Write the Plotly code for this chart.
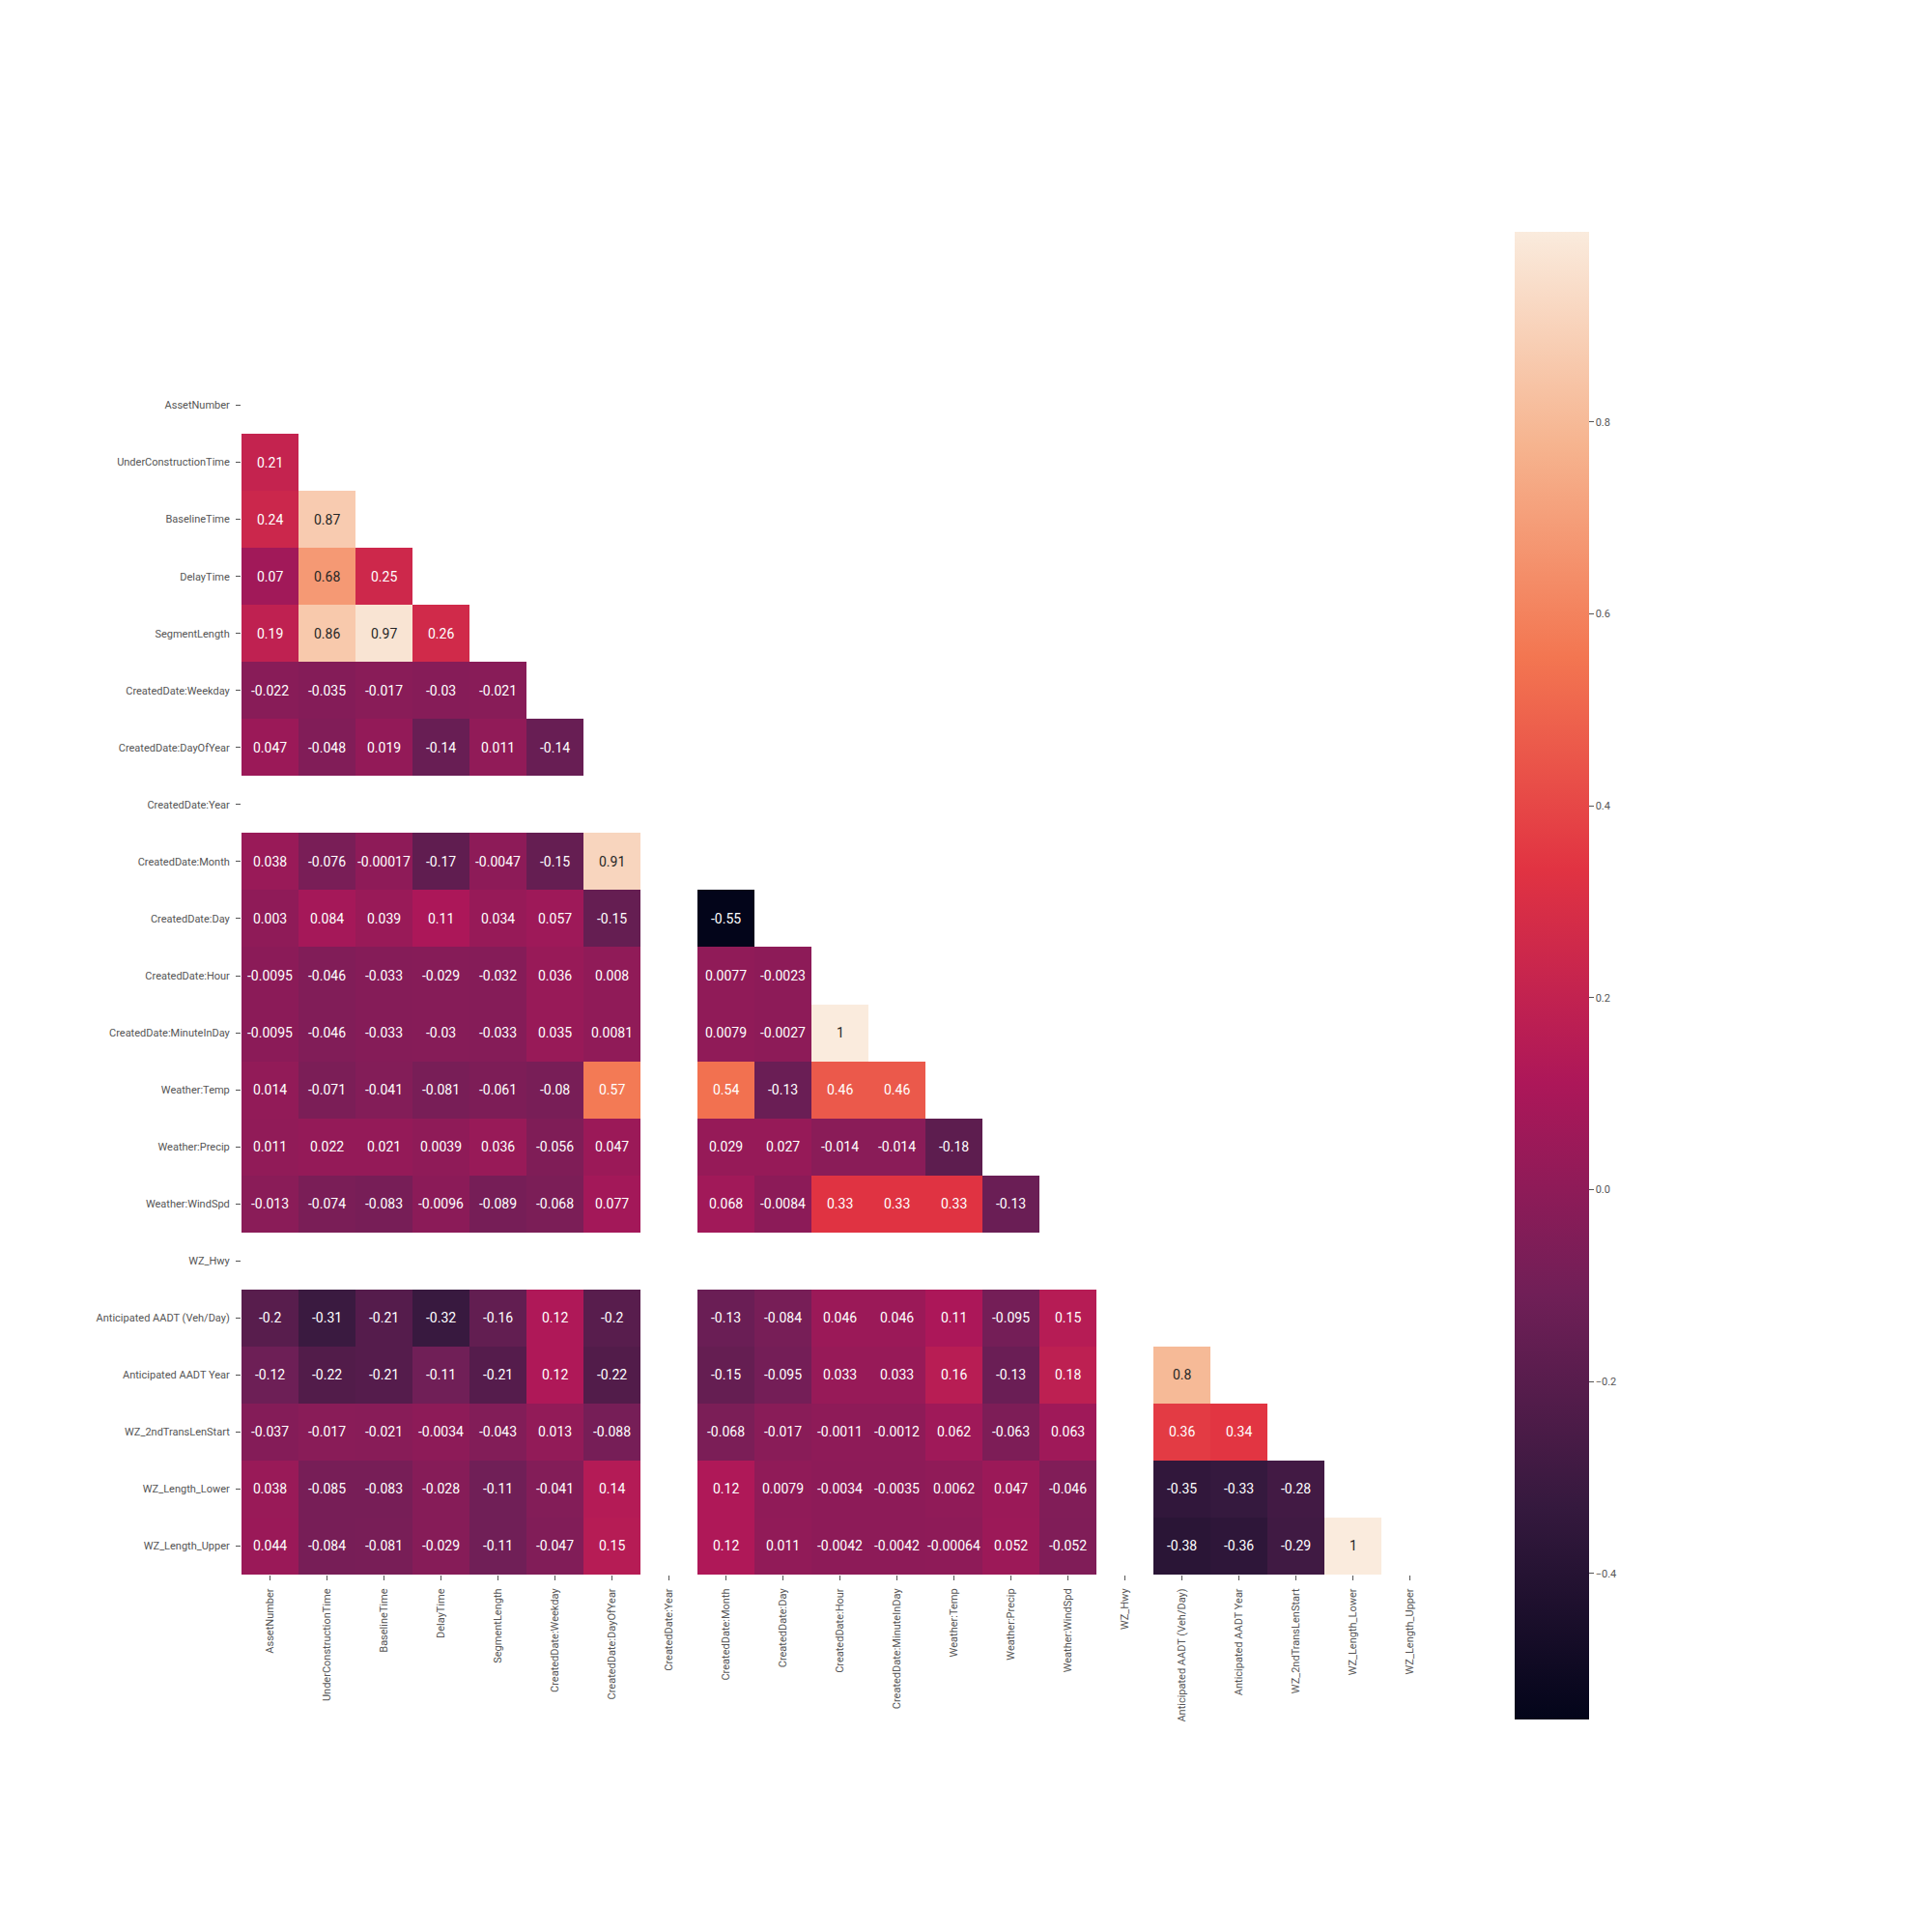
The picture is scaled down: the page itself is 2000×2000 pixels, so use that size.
import math
import plotly.graph_objects as go

labels = [
    "AssetNumber", "UnderConstructionTime", "BaselineTime", "DelayTime",
    "SegmentLength", "CreatedDate:Weekday", "CreatedDate:DayOfYear",
    "CreatedDate:Year", "CreatedDate:Month", "CreatedDate:Day",
    "CreatedDate:Hour", "CreatedDate:MinuteInDay", "Weather:Temp",
    "Weather:Precip", "Weather:WindSpd", "WZ_Hwy",
    "Anticipated AADT (Veh/Day)", "Anticipated AADT Year",
    "WZ_2ndTransLenStart", "WZ_Length_Lower", "WZ_Length_Upper",
]

N = None
# lower-triangle rows (values for columns 0 .. i-1); None = masked / undefined
row_AssetNumber = []
row_UnderConstructionTime = [0.21]
row_BaselineTime = [0.24, 0.87]
row_DelayTime = [0.07, 0.68, 0.25]
row_SegmentLength = [0.19, 0.86, 0.97, 0.26]
row_Weekday = [-0.022, -0.035, -0.017, -0.03, -0.021]
row_DayOfYear = [0.047, -0.048, 0.019, -0.14, 0.011, -0.14]
row_Year = [N, N, N, N, N, N, N]
row_Month = [0.038, -0.076, -0.00017, -0.17, -0.0047, -0.15, 0.91, N]
row_Day = [0.003, 0.084, 0.039, 0.11, 0.034, 0.057, -0.15, N, -0.55]
row_Hour = [-0.0095, -0.046, -0.033, -0.029, -0.032, 0.036, 0.008, N, 0.0077, -0.0023]
row_MinuteInDay = [-0.0095, -0.046, -0.033, -0.03, -0.033, 0.035, 0.0081, N, 0.0079, -0.0027, 1]
row_Temp = [0.014, -0.071, -0.041, -0.081, -0.061, -0.08, 0.57, N, 0.54, -0.13, 0.46, 0.46]
row_Precip = [0.011, 0.022, 0.021, 0.0039, 0.036, -0.056, 0.047, N, 0.029, 0.027, -0.014, -0.014, -0.18]
row_WindSpd = [-0.013, -0.074, -0.083, -0.0096, -0.089, -0.068, 0.077, N, 0.068, -0.0084, 0.33, 0.33, 0.33, -0.13]
row_WZ_Hwy = [N] * 15
row_AADT = [-0.2, -0.31, -0.21, -0.32, -0.16, 0.12, -0.2, N, -0.13, -0.084, 0.046, 0.046, 0.11, -0.095, 0.15, N]
row_AADT_Year = [-0.12, -0.22, -0.21, -0.11, -0.21, 0.12, -0.22, N, -0.15, -0.095, 0.033, 0.033, 0.16, -0.13, 0.18, N, 0.8]
row_2ndTrans = [-0.037, -0.017, -0.021, -0.0034, -0.043, 0.013, -0.088, N, -0.068, -0.017, -0.0011, -0.0012, 0.062, -0.063, 0.063, N, 0.36, 0.34]
row_Lower = [0.038, -0.085, -0.083, -0.028, -0.11, -0.041, 0.14, N, 0.12, 0.0079, -0.0034, -0.0035, 0.0062, 0.047, -0.046, N, -0.35, -0.33, -0.28]
row_Upper = [0.044, -0.084, -0.081, -0.029, -0.11, -0.047, 0.15, N, 0.12, 0.011, -0.0042, -0.0042, -0.00064, 0.052, -0.052, N, -0.38, -0.36, -0.29, 1]

rows = [row_AssetNumber, row_UnderConstructionTime, row_BaselineTime, row_DelayTime,
        row_SegmentLength, row_Weekday, row_DayOfYear, row_Year, row_Month, row_Day,
        row_Hour, row_MinuteInDay, row_Temp, row_Precip, row_WindSpd, row_WZ_Hwy,
        row_AADT, row_AADT_Year, row_2ndTrans, row_Lower, row_Upper]

colorbar_ticks = [-0.4, -0.2, 0.0, 0.2, 0.4, 0.6, 0.8]

n = len(labels)
z = []
for r in rows:
    z.append(list(r) + [None] * (n - len(r)))

rocket = [
    [0.0, "#03051a"],
    [1 / 7, "#35193e"],
    [2 / 7, "#701f57"],
    [3 / 7, "#ad1759"],
    [4 / 7, "#e13342"],
    [5 / 7, "#f37651"],
    [6 / 7, "#f6b48f"],
    [1.0, "#faebdd"],
]

fig = go.Figure()
fig.add_trace(go.Heatmap(
    z=z, x=labels, y=labels,
    colorscale=rocket, zmin=-0.552, zmax=0.998,
    hoverongaps=False, xgap=0, ygap=0,
    colorbar=dict(
        thickness=77, thicknessmode="pixels",
        len=1540, lenmode="pixels",
        x=0.784, xanchor="left", xpad=0,
        y=0.495, yanchor="middle", ypad=0,
        outlinewidth=0,
        tickvals=colorbar_ticks, tickformat=".1f",
        ticks="outside", ticklen=5, tickcolor="#555555",
        tickfont=dict(family="Roboto", size=11, color="#555555"),
    ),
))

annotations = []
for i, r in enumerate(rows):
    for j, v in enumerate(r):
        if v is None:
            continue
        annotations.append(dict(
            x=labels[j], y=labels[i], xref="x", yref="y",
            text=format(v, ".2g"), showarrow=False,
            font=dict(family="Roboto", size=14,
                      color="#262626" if v > 0.6 else "#ffffff"),
        ))

fig.update_layout(
    width=2000, height=2000,
    margin=dict(l=0, r=0, t=0, b=0),
    paper_bgcolor="white", plot_bgcolor="white",
    annotations=annotations,
    font=dict(family="Roboto"),
    xaxis=dict(
        domain=[0.125, 0.7445], type="category",
        tickangle=-90, ticks="outside", ticklen=5, tickcolor="#555555",
        ticklabelstandoff=4,
        tickfont=dict(family="Roboto", size=11, color="#555555"),
        showgrid=False, zeroline=False, showline=False,
    ),
    yaxis=dict(
        domain=[0.185, 0.805], type="category", autorange="reversed",
        ticks="outside", ticklen=5, tickcolor="#555555",
        ticklabelstandoff=4,
        tickfont=dict(family="Roboto", size=11, color="#555555"),
        showgrid=False, zeroline=False, showline=False,
    ),
)

fig.write_html("out.html")
